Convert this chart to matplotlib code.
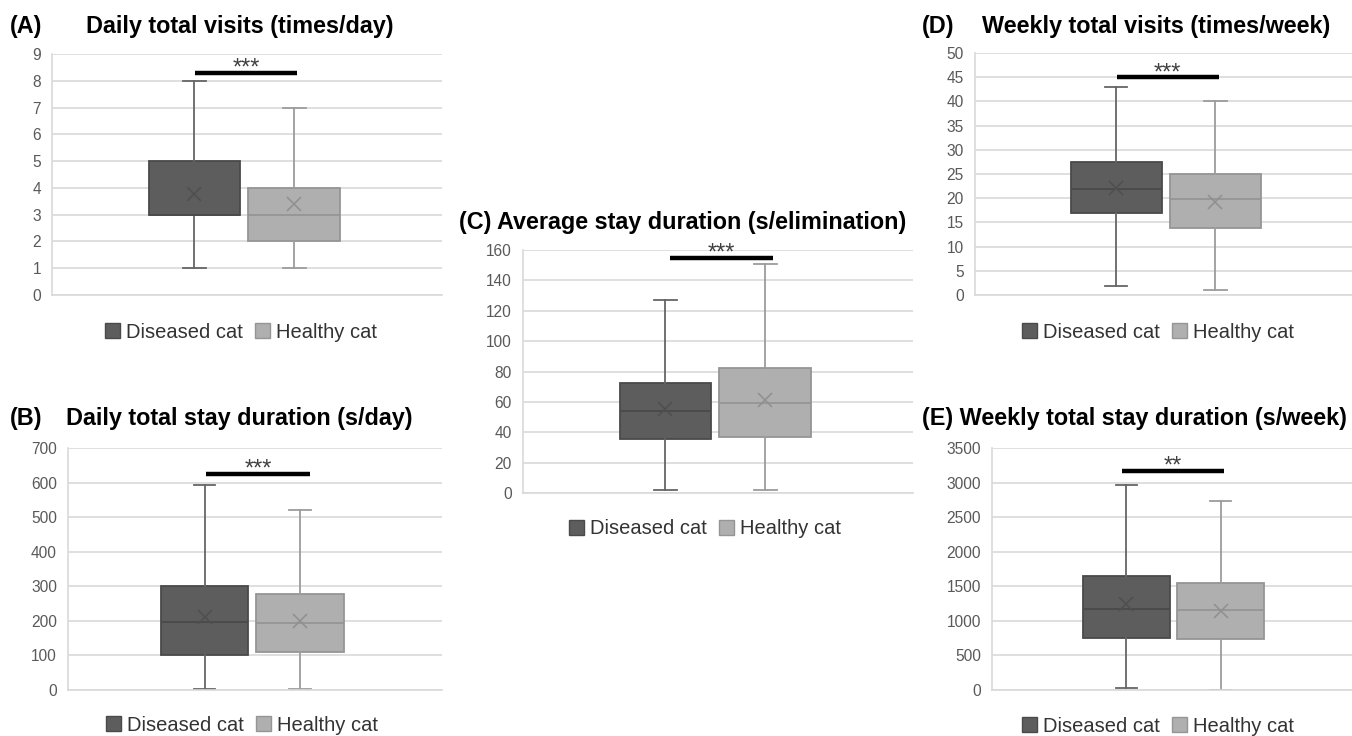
import numpy as np
import matplotlib.pyplot as plt
from matplotlib.patches import Patch

plt.rcParams['font.family'] = ['Liberation Sans', 'DejaVu Sans']

groups = ['Diseased cat', 'Healthy cat']

# box stats per group: [min, q1, median, q3, max, mean]
daily_visits_diseased = [1, 3, 3, 5, 8, 3.77]
daily_visits_healthy = [1, 2, 3, 4, 7, 3.40]
daily_stay_diseased = [3, 101, 196, 301, 594, 210]
daily_stay_healthy = [3, 109, 193, 277, 522, 200]
avg_stay_diseased = [2, 35.6, 53.8, 72.6, 127, 55.3]
avg_stay_healthy = [2, 37, 59, 82.5, 150.6, 61.2]
weekly_visits_diseased = [1.9, 17, 22, 27.4, 43, 22.1]
weekly_visits_healthy = [1, 13.8, 19.9, 25, 40, 19.2]
weekly_stay_diseased = [24, 751, 1170, 1650, 2965, 1239]
weekly_stay_healthy = [0, 741, 1151, 1541, 2734, 1136]

titles = ['Daily total visits (times/day)',
          'Daily total stay duration (s/day)',
          '(C) Average stay duration (s/elimination)',
          'Weekly total visits (times/week)',
          '(E) Weekly total stay duration (s/week)']
letters = ['(A)', '(B)', '', '(D)', '']
y_max = [9, 700, 160, 50, 3500]
y_step = [1, 100, 20, 5, 500]
sig_labels = ['***', '***', '***', '***', '**']
sig_y = [8.3, 625, 155, 45, 3172]

W, H = 1352, 736
fig = plt.figure(figsize=(W / 100, H / 100), dpi=100)

def px(x, y):
    return x / W, 1 - y / H

# axes rectangles in pixels: left, top, right, bottom
rects = [(52, 54, 442, 295),
         (68, 448, 442, 690),
         (523, 250, 913, 493),
         (975, 53, 1362, 295),
         (992, 448, 1360, 690)]
sig_x = [(0.367, 0.628), (0.369, 0.647), (0.377, 0.640), (0.366, 0.630), (0.352, 0.630)]
leg_pos = [(0.485, -0.154), (0.465, -0.145), (0.467, -0.148), (0.473, -0.153), (0.452, -0.149)]
letter_pos = [(10, 26), (10, 419), None, (922, 26), None]
title_pos = [(86, 26), (66, 419), (459, 222), (982, 26), (922, 419)]

data = [(daily_visits_diseased, daily_visits_healthy),
        (daily_stay_diseased, daily_stay_healthy),
        (avg_stay_diseased, avg_stay_healthy),
        (weekly_visits_diseased, weekly_visits_healthy),
        (weekly_stay_diseased, weekly_stay_healthy)]

fill = ['#5d5d5d', '#afafaf']
edge = ['#4a4a4a', '#959595']
whisk = ['#666666', '#9c9c9c']
meanc = ['#4f4f4f', '#8f8f8f']

def to_stats(v, lab):
    return dict(whislo=v[0], q1=v[1], med=v[2], q3=v[3], whishi=v[4],
                mean=v[5], fliers=[], label=lab)

for i, (dis, hea) in enumerate(data):
    l, t, r, b = rects[i]
    x0, y1 = px(l, t)
    x1, y0 = px(r, b)
    ax = fig.add_axes([x0, y0, x1 - x0, y1 - y0])
    stats = [to_stats(dis, groups[0]), to_stats(hea, groups[1])]
    bp = ax.bxp(stats, positions=[0.365, 0.621], widths=0.235, capwidths=0.058,
                showmeans=True, patch_artist=True, manage_ticks=False)
    for k in range(2):
        bp['boxes'][k].set(facecolor=fill[k], edgecolor=edge[k], linewidth=1.3)
        for w in bp['whiskers'][2 * k:2 * k + 2]:
            w.set(color=whisk[k], linewidth=1.3)
        for c in bp['caps'][2 * k:2 * k + 2]:
            c.set(color=whisk[k], linewidth=1.3)
        bp['medians'][k].set(color=edge[k], linewidth=1.3)
        bp['means'][k].set(marker='x', markeredgecolor=meanc[k], markersize=10,
                           markeredgewidth=1.1)
    ax.set_xlim(0, 1)
    ax.set_ylim(0, y_max[i])
    ax.set_yticks(np.arange(0, y_max[i] + y_step[i] / 2, y_step[i]))
    ax.set_xticks([])
    ax.grid(axis='y', color='#d9d9d9', linewidth=1.2)
    ax.set_axisbelow(True)
    for s in ['top', 'right']:
        ax.spines[s].set_visible(False)
    for s in ['left', 'bottom']:
        ax.spines[s].set_color('#d9d9d9')
        ax.spines[s].set_linewidth(1.2)
    ax.tick_params(axis='y', length=0, pad=8, labelsize=11.2, labelcolor='#595959')

    sx0, sx1 = sig_x[i]
    ax.plot([sx0, sx1], [sig_y[i], sig_y[i]], color='black', linewidth=3.2,
            solid_capstyle='butt', clip_on=False)
    ax.annotate(sig_labels[i], ((sx0 + sx1) / 2, sig_y[i]), xytext=(0, -5),
                textcoords='offset points', ha='center', va='bottom',
                fontsize=17, color='#404040', annotation_clip=False)

    handles = [Patch(facecolor=fill[k], edgecolor=edge[k]) for k in range(2)]
    ax.legend(handles, groups, loc='center', bbox_to_anchor=leg_pos[i], ncol=2,
              frameon=False, fontsize=14.5, handlelength=0.75, handleheight=0.75,
              handletextpad=0.3, columnspacing=0.6, labelcolor='#333333')

    if letter_pos[i] is not None:
        fig.text(*px(*letter_pos[i]), letters[i], fontsize=16.8, fontweight='bold',
                 ha='left', va='center')
    fig.text(*px(*title_pos[i]), titles[i], fontsize=16.8, fontweight='bold',
             ha='left', va='center')

fig.savefig('out.png', dpi=100)
